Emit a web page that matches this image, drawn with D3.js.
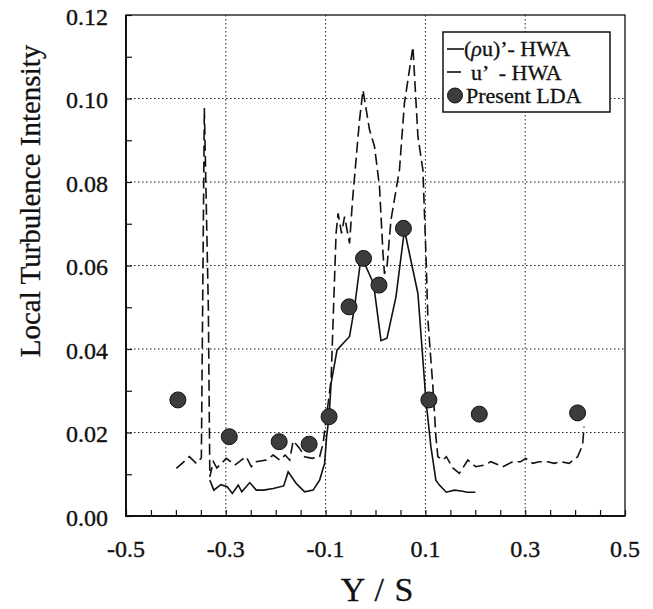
<!DOCTYPE html>
<html>
<head>
<meta charset="utf-8">
<script src="https://cdn.jsdelivr.net/npm/d3@7"></script>
<style>
  html, body { margin: 0; padding: 0; background: #fff; }
  svg { display: block; }
</style>
</head>
<body>
<svg id="chart" width="653" height="609" font-family="'Liberation Serif', 'Times New Roman', Times, serif"></svg>
<script>
// Axis ticks and labels
const xTickLabels = ["-0.5", "-0.3", "-0.1", "0.1", "0.3", "0.5"];
const yTickLabels = ["0.00", "0.02", "0.04", "0.06", "0.08", "0.10", "0.12"];

// (ρu)' measured with the hot-wire anemometer
const rhoUx = [-0.332, -0.324, -0.310, -0.297, -0.287, -0.275, -0.268, -0.252, -0.239, -0.224,
               -0.205, -0.184, -0.175, -0.159, -0.142, -0.125, -0.112, -0.102, -0.098, -0.093,
               -0.089, -0.077, -0.052, -0.042, -0.029, -0.019, -0.004, 0.011, 0.023, 0.041,
               0.058, 0.085, 0.101, 0.111, 0.121, 0.128, 0.142, 0.158, 0.172, 0.184, 0.200];
const rhoUy = [0.0086, 0.0062, 0.0075, 0.0070, 0.0054, 0.0074, 0.0058, 0.0080, 0.0062, 0.0062,
               0.0066, 0.0072, 0.0106, 0.0078, 0.0058, 0.0062, 0.0086, 0.0126, 0.0190, 0.0238,
               0.0318, 0.0398, 0.0430, 0.0500, 0.0620, 0.0597, 0.0557, 0.0420, 0.0426, 0.0525,
               0.0685, 0.0533, 0.0278, 0.0166, 0.0086, 0.0074, 0.0057, 0.0062, 0.0060, 0.0057, 0.0057];

// u' measured with the hot-wire anemometer
const uPx = [-0.399, -0.373, -0.359, -0.349, -0.343, -0.335, -0.332, -0.325, -0.318, -0.299,
             -0.282, -0.269, -0.259, -0.249, -0.239, -0.219, -0.205, -0.192, -0.181, -0.172,
             -0.165, -0.152, -0.142, -0.127, -0.112, -0.105, -0.089, -0.079, -0.075, -0.068,
             -0.062, -0.052, -0.046, -0.032, -0.025, -0.012, -0.002, 0.008, 0.015, 0.018,
             0.023, 0.031, 0.048, 0.058, 0.075, 0.085, 0.095, 0.101, 0.105, 0.115,
             0.121, 0.125, 0.135, 0.142, 0.155, 0.168, 0.185, 0.201, 0.218, 0.231,
             0.255, 0.275, 0.291, 0.301, 0.315, 0.328, 0.345, 0.358, 0.371, 0.388,
             0.405, 0.415, 0.418];
const uPy = [0.0114, 0.0142, 0.0126, 0.0139, 0.0977, 0.0500, 0.0094, 0.0130, 0.0115, 0.0138,
             0.0122, 0.0134, 0.0142, 0.0118, 0.0130, 0.0134, 0.0146, 0.0134, 0.0146, 0.0134,
             0.0180, 0.0162, 0.0142, 0.0138, 0.0142, 0.0174, 0.0326, 0.0677, 0.0725, 0.0677,
             0.0717, 0.0653, 0.0757, 0.0949, 0.1020, 0.0925, 0.0885, 0.0789, 0.0629, 0.0580,
             0.0597, 0.0709, 0.0829, 0.0989, 0.1124, 0.0909, 0.0829, 0.0630, 0.0470, 0.0310,
             0.0190, 0.0142, 0.0134, 0.0142, 0.0115, 0.0102, 0.0134, 0.0118, 0.0122, 0.0130,
             0.0118, 0.0130, 0.0130, 0.0138, 0.0126, 0.0130, 0.0130, 0.0126, 0.0130, 0.0126,
             0.0142, 0.0170, 0.0214];

// Present LDA measurements
const ldaX = [-0.396, -0.293, -0.193, -0.133, -0.093, -0.053, -0.024, 0.007, 0.056, 0.107, 0.208, 0.405];
const ldaY = [0.0278, 0.0190, 0.0178, 0.0172, 0.0238, 0.0501, 0.0617, 0.0553, 0.0689, 0.0278, 0.0244, 0.0247];

const svg = d3.select("#chart");
const m = { left: 126, right: 625, top: 15, bottom: 516 };
const ink = "#111";

const x = d3.scaleLinear().domain([-0.5, 0.5]).range([m.left, m.right]);
const y = d3.scaleLinear().domain([0, 0.12]).range([m.bottom, m.top]);

// Dotted grid
const gridX = xTickLabels.map(Number).slice(1, -1);
const gridY = yTickLabels.map(Number).slice(1, -1);
const grid = svg.append("g").attr("stroke", "#222").attr("stroke-width", 1)
  .attr("stroke-dasharray", "1.5,2.5");
grid.selectAll("line.gx").data(gridX).join("line")
  .attr("x1", d => x(d)).attr("x2", d => x(d)).attr("y1", m.top).attr("y2", m.bottom);
grid.selectAll("line.gy").data(gridY).join("line")
  .attr("x1", m.left).attr("x2", m.right).attr("y1", d => y(d)).attr("y2", d => y(d));

// Inward ticks
const xAxis = d3.axisTop(x).tickValues(d3.range(-0.5, 0.5001, 0.05)).tickSize(6).tickFormat("");
svg.append("g").attr("transform", `translate(0,${m.bottom})`).call(xAxis)
  .call(g => g.select(".domain").remove())
  .call(g => g.selectAll("line").attr("stroke", ink).attr("stroke-width", 1.2));
const yAxis = d3.axisRight(y).tickValues(d3.range(0, 0.1201, 0.01)).tickSize(6).tickFormat("");
svg.append("g").attr("transform", `translate(${m.left},0)`).call(yAxis)
  .call(g => g.select(".domain").remove())
  .call(g => g.selectAll("line").attr("stroke", ink).attr("stroke-width", 1.2));

// Frame
svg.append("rect").attr("x", m.left).attr("y", m.top)
  .attr("width", m.right - m.left).attr("height", m.bottom - m.top)
  .attr("fill", "none").attr("stroke", ink).attr("stroke-width", 1.3);
svg.append("path")
  .attr("d", `M${m.left},${m.top}V${m.bottom}H${m.right}`)
  .attr("fill", "none").attr("stroke", ink).attr("stroke-width", 2);

// Tick labels (a hairline stroke gives the heavier print look)
svg.append("g").selectAll("text").data(xTickLabels).join("text")
  .attr("x", d => x(+d)).attr("y", 557).attr("fill", ink)
  .attr("stroke", ink).attr("stroke-width", 0.35)
  .attr("text-anchor", "middle").attr("font-size", 24).text(d => d);
svg.append("g").selectAll("text").data(yTickLabels).join("text")
  .attr("x", 108).attr("y", d => y(+d) + 9.5).attr("fill", ink)
  .attr("stroke", ink).attr("stroke-width", 0.35)
  .attr("text-anchor", "end").attr("font-size", 24).text(d => d);

// Axis titles
svg.append("text").attr("x", 377).attr("y", 601).attr("text-anchor", "middle").attr("fill", ink)
  .attr("stroke", ink).attr("stroke-width", 0.3)
  .attr("font-size", 34).attr("word-spacing", 2).text("Y / S");
svg.append("text").attr("transform", "translate(40,201) rotate(-90)").attr("fill", ink)
  .attr("stroke", ink).attr("stroke-width", 0.3)
  .attr("text-anchor", "middle").attr("font-size", 29).text("Local Turbulence Intensity");

// Curves
const line = d3.line().x(d => x(d[0])).y(d => y(d[1]));
svg.append("path").datum(d3.zip(uPx, uPy)).attr("d", line)
  .attr("fill", "none").attr("stroke", ink).attr("stroke-width", 1.6)
  .attr("stroke-dasharray", "11,5");
svg.append("path").datum(d3.zip(rhoUx, rhoUy)).attr("d", line)
  .attr("fill", "none").attr("stroke", ink).attr("stroke-width", 1.6);

// LDA points
svg.append("g").selectAll("circle").data(d3.zip(ldaX, ldaY)).join("circle")
  .attr("cx", d => x(d[0])).attr("cy", d => y(d[1])).attr("r", 8)
  .attr("fill", "#3c3c3c").attr("stroke", ink).attr("stroke-width", 1);

// Legend
const lg = svg.append("g");
lg.append("rect").attr("x", 443).attr("y", 32).attr("width", 167).attr("height", 80)
  .attr("fill", "#fff").attr("stroke", ink).attr("stroke-width", 1.5);
lg.append("line").attr("x1", 447).attr("x2", 464).attr("y1", 49).attr("y2", 49)
  .attr("stroke", ink).attr("stroke-width", 1.6);
const t1 = lg.append("text").attr("x", 464).attr("y", 56).attr("font-size", 22).attr("fill", ink)
  .attr("stroke", ink).attr("stroke-width", 0.3);
t1.append("tspan").text("(");
t1.append("tspan").attr("font-style", "italic").text("ρ");
t1.append("tspan").text("u)’- HWA");
lg.append("line").attr("x1", 447).attr("x2", 461).attr("y1", 72).attr("y2", 72)
  .attr("stroke", ink).attr("stroke-width", 1.6);
lg.append("text").attr("x", 471).attr("y", 79.5).attr("font-size", 22).attr("fill", ink)
  .attr("stroke", ink).attr("stroke-width", 0.3)
  .attr("xml:space", "preserve").text("u’  - HWA");
lg.append("circle").attr("cx", 455).attr("cy", 95.5).attr("r", 7.5)
  .attr("fill", "#3c3c3c").attr("stroke", ink).attr("stroke-width", 1);
lg.append("text").attr("x", 466).attr("y", 103).attr("font-size", 22).attr("fill", ink)
  .attr("stroke", ink).attr("stroke-width", 0.3)
  .text("Present LDA");
</script>
</body>
</html>
